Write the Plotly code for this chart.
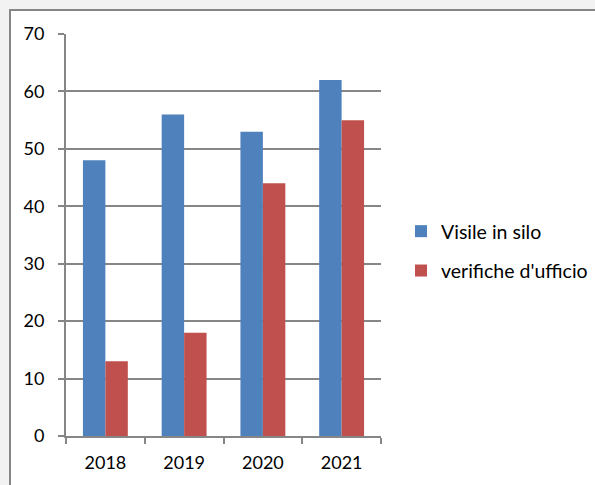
import plotly.graph_objects as go

years = ["2018", "2019", "2020", "2021"]
visite = [48, 56, 53, 62]
verifiche = [13, 18, 44, 55]
series_names = ["Visile in silo", "verifiche d'ufficio"]
colors = ["#4F81BD", "#C0504D"]
y_ticks = [0, 10, 20, 30, 40, 50, 60, 70]

W, H = 595, 485
L, R, T, B = 66, 381, 34, 436

fig = go.Figure()
for name, vals, col, grp in [(series_names[0], visite, colors[0], "a"),
                             (series_names[1], verifiche, colors[1], "b")]:
    fig.add_trace(go.Bar(x=years, y=vals, name=name, marker_color=col,
                         marker_line_width=0, legendgroup=grp))

pw = R - L
ph = B - T
def px_x(p):
    return (p - L) / pw
def px_y(p):
    return (B - p) / ph

fig.update_layout(
    width=W, height=H,
    margin=dict(l=L, r=W - R, t=T, b=H - B, autoexpand=False),
    paper_bgcolor="#F2F2F2",
    plot_bgcolor="white",
    barmode="group",
    bargap=0.43,
    bargroupgap=0,
    font=dict(family="Lato, Carlito, Calibri, sans-serif", size=18, color="#000000"),
    showlegend=True,
    legend=dict(x=px_x(401), y=px_y(212), xanchor="left", yanchor="top",
                bgcolor="rgba(0,0,0,0)", traceorder="grouped",
                tracegroupgap=11, font=dict(size=19.5)),
    shapes=[dict(type="rect", xref="paper", yref="paper",
                 x0=px_x(10), x1=px_x(620), y0=px_y(500), y1=px_y(10),
                 line=dict(color="#868686", width=2), fillcolor="white",
                 layer="below")],
)
fig.update_xaxes(showline=True, linecolor="#868686", linewidth=2,
                 ticks="outside", tickson="boundaries", ticklen=6,
                 tickcolor="#868686", tickwidth=2, showgrid=False,
                 ticklabelstandoff=9)
fig.update_yaxes(range=[0, 70], tickvals=y_ticks, showgrid=True,
                 gridcolor="#868686", gridwidth=2, showline=True,
                 linecolor="#868686", linewidth=2, ticks="outside",
                 ticklen=6, tickcolor="#868686", tickwidth=2,
                 zeroline=False, ticklabelstandoff=10)

fig.write_html("out.html", config={"displayModeBar": False},
               post_script="document.body.style.margin='0';document.body.style.background='#F2F2F2';")
